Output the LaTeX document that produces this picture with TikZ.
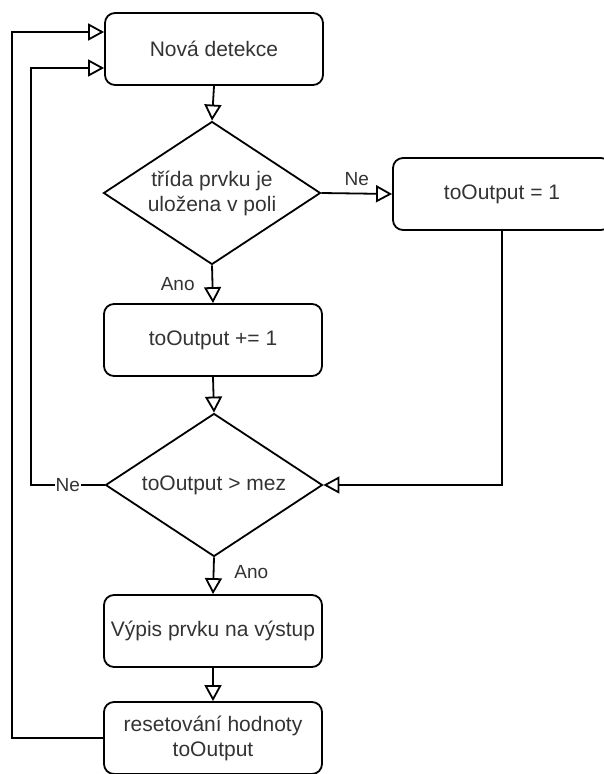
\documentclass[tikz,border=0pt]{standalone}
\usepackage{fontspec}
\setmainfont{Liberation Sans}
\usetikzlibrary{arrows.meta,shapes.geometric,positioning,calc}
\tikzset{
  box/.style={draw, rounded corners=10pt, minimum width=218pt, minimum height=72pt, inner sep=2pt, align=center, font=\fontsize{21}{25}\selectfont, text=black!80},
  dec/.style={draw, diamond, minimum width=217pt, minimum height=143pt, inner sep=0pt, shape aspect=1.52, align=center, font=\fontsize{21}{25}\selectfont, text=black!80},
  arr/.style={-{Triangle[open,length=16pt,width=17pt]}},
  lbl/.style={font=\fontsize{19}{22}\selectfont, text=black!80, inner sep=2pt},
}
\begin{document}
\begin{tikzpicture}[x=1pt,y=-1pt, line width=1.8pt, line join=miter]
\useasboundingbox (0,0) rectangle (604,774);
\node[box] (nova) at (214,49) {Nová detekce};
\node[dec] (d1) at (212,193) {třída prvku je\\uložena v poli};
\node[box] (one) at (502,194) {toOutput = 1};
\node[box] (plus) at (213,340) {toOutput += 1};
\node[dec] (d2) at (214,485) {toOutput > mez};
\node[box] (vypis) at (213,631) {Výpis prvku na výstup};
\node[box] (reset) at (213,738) {resetování hodnoty\\toOutput};
\coordinate (c1) at (12,32);
\coordinate (c2) at (31,68);
\coordinate (c3) at (502,485);

\draw[arr] (nova.south) -- (d1.north);
\draw[arr] (d1.east) -- node[lbl, above, pos=0.5, yshift=5pt] {Ne} (one.west);
\draw[arr] (d1.south) -- node[lbl, left, pos=0.5, xshift=-15pt] {Ano} (plus.north);
\draw[arr] (plus.south) -- (d2.north);
\draw[arr] (d2.west) -- node[lbl, fill=white, pos=0.5, inner sep=1pt] {Ne} (d2.west -| c2) -- (c2) -- (c2 -| nova.west);
\draw[arr] (one.south) -- (c3) -- (d2.east);
\draw[arr] (d2.south) -- node[lbl, right, pos=0.45, xshift=18pt, yshift=2pt] {Ano} (vypis.north);
\draw[arr] (vypis.south) -- (reset.north);
\draw[arr] (reset.west) -| (c1) -- (c1 -| nova.west);
\end{tikzpicture}
\end{document}
